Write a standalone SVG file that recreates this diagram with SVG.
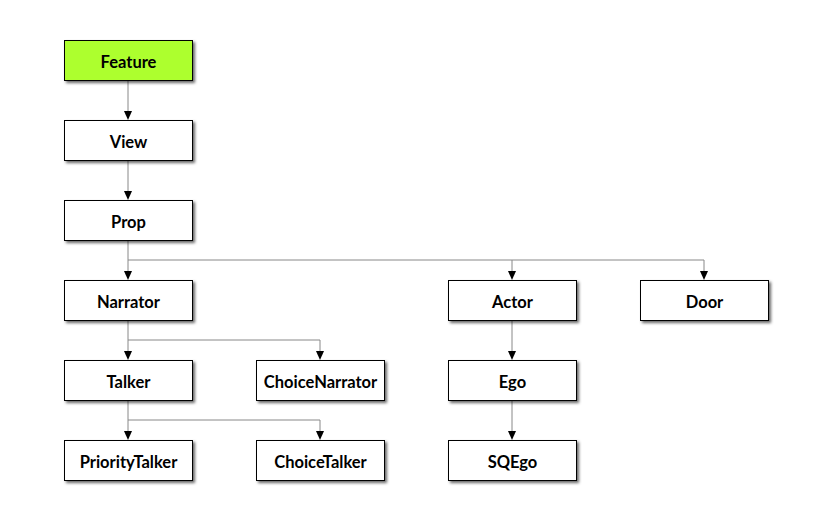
<svg xmlns="http://www.w3.org/2000/svg" width="832" height="520" viewBox="0 0 832 520">
<style>
.n rect{fill:#fff;stroke:#000;stroke-width:1;filter:url(#sh)}
.n text{font-family:Lato,"Liberation Sans",sans-serif;font-weight:bold;font-size:16.5px;fill:#000;text-anchor:middle;dominant-baseline:central}
.e{fill:none;stroke:#888;stroke-width:1}
.a{fill:#000}
</style>
<defs>
<filter id="sh" x="-10%" y="-20%" width="130%" height="160%">
<feDropShadow dx="2" dy="2" stdDeviation="1.5" flood-color="#000" flood-opacity="0.6"/>
</filter>
</defs>
<rect width="832" height="520" fill="#fff"/>
<g id="connectors">
<path class="e" d="M128 80V112M128 160V192M128 240V272M128 260H704V272M512 260V272M128 320V352M128 340H320V352M128 400V432M128 420H320V432M512 320V352M512 400V432"/>
<g class="a">
<path d="M124 111H132L128 120Z"/>
<path d="M124 191H132L128 200Z"/>
<path d="M124 271H132L128 280Z"/>
<path d="M508 271H516L512 280Z"/>
<path d="M700 271H708L704 280Z"/>
<path d="M124 351H132L128 360Z"/>
<path d="M316 351H324L320 360Z"/>
<path d="M124 431H132L128 440Z"/>
<path d="M316 431H324L320 440Z"/>
<path d="M508 351H516L512 360Z"/>
<path d="M508 431H516L512 440Z"/>
</g>
</g>
<g id="Feature" class="n"><rect x="64.5" y="40.5" width="128" height="40" style="fill:#adff2f"/><text x="128.5" y="61.5">Feature</text></g>
<g id="View" class="n"><rect x="64.5" y="120.5" width="128" height="40"/><text x="128.5" y="141.5">View</text></g>
<g id="Prop" class="n"><rect x="64.5" y="200.5" width="128" height="40"/><text x="128.5" y="221.5">Prop</text></g>
<g id="Narrator" class="n"><rect x="64.5" y="280.5" width="128" height="40"/><text x="128.5" y="301.5">Narrator</text></g>
<g id="Actor" class="n"><rect x="448.5" y="280.5" width="128" height="40"/><text x="512.5" y="301.5">Actor</text></g>
<g id="Door" class="n"><rect x="640.5" y="280.5" width="128" height="40"/><text x="704.5" y="301.5">Door</text></g>
<g id="Talker" class="n"><rect x="64.5" y="360.5" width="128" height="40"/><text x="128.5" y="381.5">Talker</text></g>
<g id="ChoiceNarrator" class="n"><rect x="256.5" y="360.5" width="128" height="40"/><text x="320.5" y="381.5">ChoiceNarrator</text></g>
<g id="Ego" class="n"><rect x="448.5" y="360.5" width="128" height="40"/><text x="512.5" y="381.5">Ego</text></g>
<g id="PriorityTalker" class="n"><rect x="64.5" y="440.5" width="128" height="40"/><text x="128.5" y="461.5">PriorityTalker</text></g>
<g id="ChoiceTalker" class="n"><rect x="256.5" y="440.5" width="128" height="40"/><text x="320.5" y="461.5">ChoiceTalker</text></g>
<g id="SQEgo" class="n"><rect x="448.5" y="440.5" width="128" height="40"/><text x="512.5" y="461.5">SQEgo</text></g>
</svg>
